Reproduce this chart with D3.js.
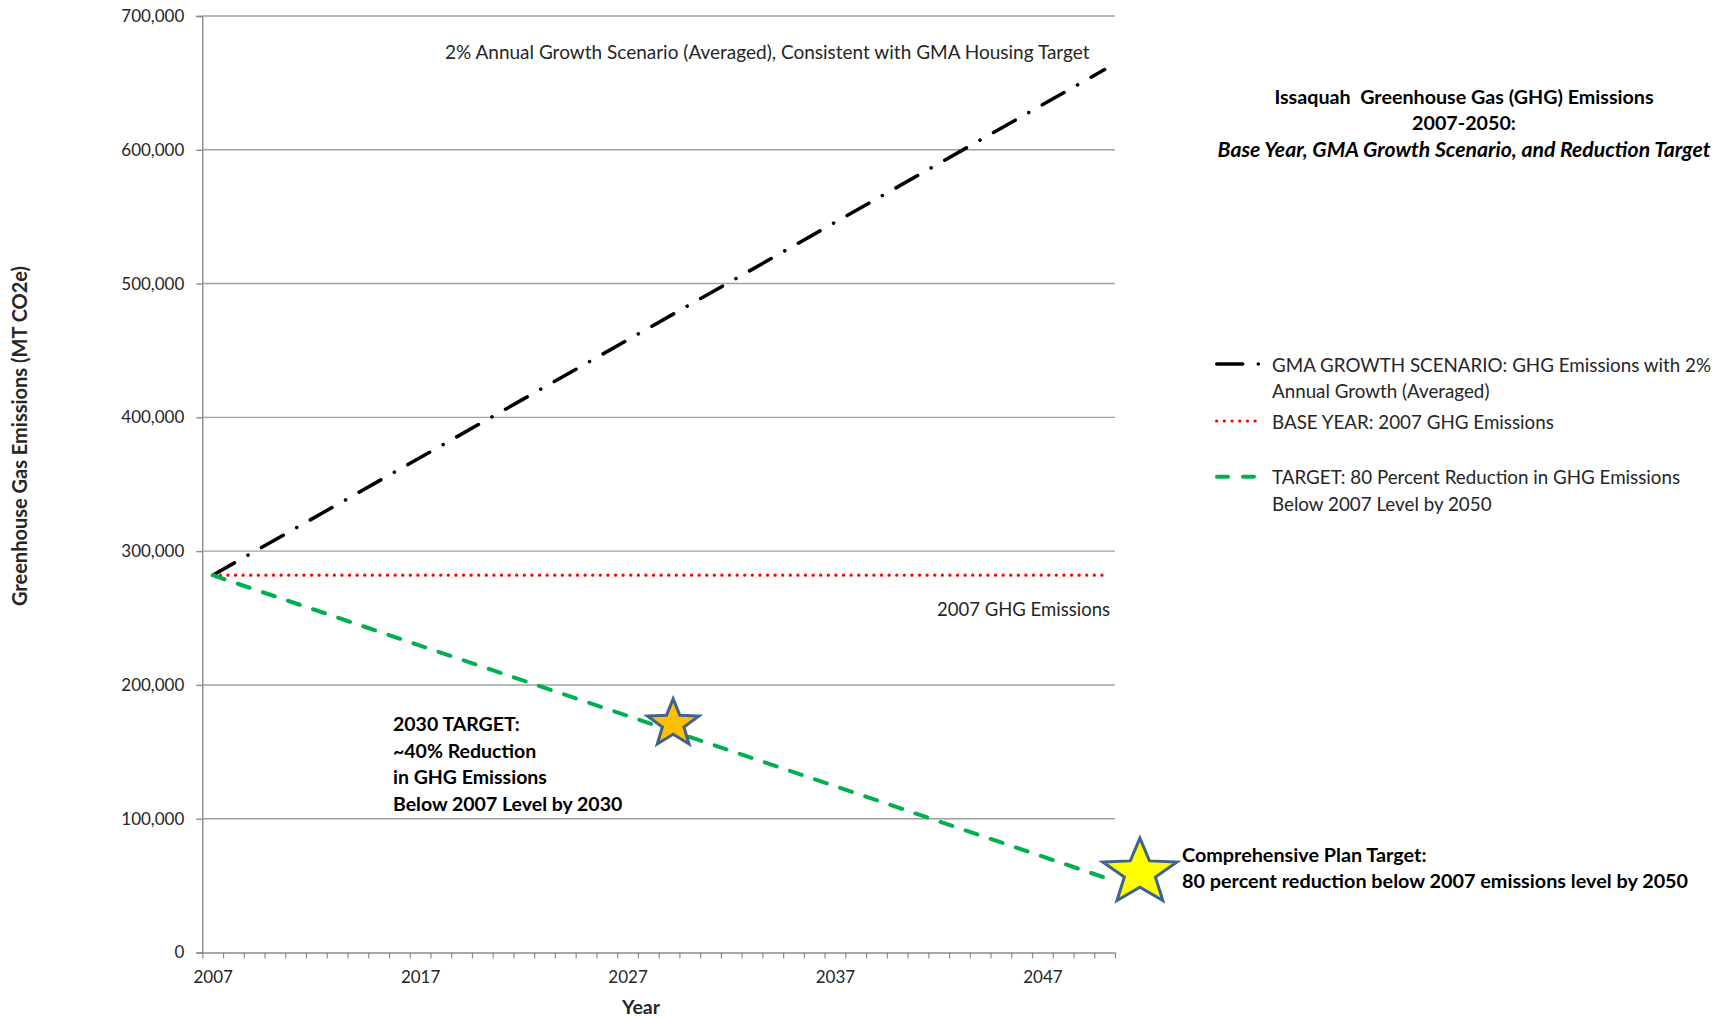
<!DOCTYPE html>
<html>
<head>
<meta charset="utf-8">
<script src="https://cdn.jsdelivr.net/npm/d3@7"></script>
<style>
  html, body { margin: 0; padding: 0; background: #fff; }
  svg { display: block; font-family: Lato, "Open Sans", sans-serif; }
</style>
</head>
<body>
<svg id="chart" width="1736" height="1020"></svg>
<script>
// ---------------- DATA ----------------
const categories = [2007, 2008, 2009, 2010, 2011, 2012, 2013, 2014, 2015, 2016,
  2017, 2018, 2019, 2020, 2021, 2022, 2023, 2024, 2025, 2026,
  2027, 2028, 2029, 2030, 2031, 2032, 2033, 2034, 2035, 2036,
  2037, 2038, 2039, 2040, 2041, 2042, 2043, 2044, 2045, 2046,
  2047, 2048, 2049, 2050];
const xTickLabels = [2007, 2017, 2027, 2037, 2047];
const yTickValues = [0, 100000, 200000, 300000, 400000, 500000, 600000, 700000];

// GMA growth scenario (2% annual growth, averaged) - straight line in chart
const gmaYears = [2007, 2050];
const gmaValues = [282000, 660000];
// Base year 2007 emissions (flat)
const baseYears = [2007, 2050];
const baseValues = [282000, 282000];
// Target: 80% reduction below 2007 by 2050
const targetYears = [2007, 2050];
const targetValues = [282000, 56000];

// Milestone stars
const starYears = [2029.2, 2051.7];
const starValues = [171000, 59700];

const legendLabels = [
  ["GMA GROWTH SCENARIO: GHG Emissions with 2%", "Annual Growth (Averaged)"],
  ["BASE YEAR: 2007 GHG Emissions"],
  ["TARGET: 80 Percent Reduction in GHG Emissions", "Below 2007 Level by 2050"]
];
const titleLines = ["Issaquah  Greenhouse Gas (GHG) Emissions", "2007-2050:", "Base Year, GMA Growth Scenario, and Reduction Target"];
const note2030 = ["2030 TARGET:", "~40% Reduction", "in GHG Emissions", "Below 2007 Level by 2030"];
const notePlan = ["Comprehensive Plan Target:", "80 percent reduction below 2007 emissions level by 2050"];

// ---------------- LAYOUT ----------------
const svg = d3.select("#chart");
const plotLeft = 202.3, plotRight = 1115, plotTop = 16, plotBottom = 952.5;
const textColor = "#262626";

const xLin = d3.scaleLinear()
  .domain([categories[0] - 0.5, categories[categories.length - 1] + 0.5])
  .range([plotLeft, plotRight]);
const y = d3.scaleLinear().domain([0, 700000]).range([plotBottom, plotTop]);

// gridlines
svg.append("g").selectAll("line")
  .data(yTickValues.filter(v => v > 0))
  .join("line")
  .attr("x1", plotLeft).attr("x2", plotRight)
  .attr("y1", d => y(d)).attr("y2", d => y(d))
  .attr("stroke", "#a0a0a0").attr("stroke-width", 1.4);

// y axis
const yAxis = svg.append("g")
  .attr("transform", `translate(${plotLeft},0)`)
  .call(d3.axisLeft(y).tickValues(yTickValues).tickFormat(d3.format(",")).tickSize(6).tickPadding(12));
yAxis.select(".domain").attr("stroke", "#8c8c8c").attr("stroke-width", 1.4);
yAxis.selectAll(".tick line").attr("stroke", "#8c8c8c").attr("stroke-width", 1.4);
yAxis.selectAll("text").attr("fill", textColor).style("font-size", "17px").style("font-family", "Lato");

// x axis: tick marks between categories
const boundaries = categories.map(c => c - 0.5).concat([categories[categories.length - 1] + 0.5]);
const xAxisTicks = svg.append("g")
  .attr("transform", `translate(0,${plotBottom})`)
  .call(d3.axisBottom(xLin).tickValues(boundaries).tickFormat("").tickSize(6).tickSizeOuter(0));
xAxisTicks.select(".domain").attr("stroke", "#8c8c8c").attr("stroke-width", 1.4);
xAxisTicks.selectAll(".tick line").attr("stroke", "#8c8c8c").attr("stroke-width", 1.2);

const xAxisLabels = svg.append("g")
  .attr("transform", `translate(0,${plotBottom})`)
  .call(d3.axisBottom(xLin).tickValues(xTickLabels).tickFormat(d3.format("d")).tickSize(0).tickPadding(18));
xAxisLabels.select(".domain").remove();
xAxisLabels.selectAll("text").attr("fill", textColor).style("font-size", "17px").style("font-family", "Lato");

// axis titles
svg.append("text")
  .attr("transform", `translate(19,436) rotate(-90)`)
  .attr("text-anchor", "middle").attr("dominant-baseline", "central")
  .attr("fill", textColor).style("font-size", "20px").style("font-weight", "bold")
  .text("Greenhouse Gas Emissions (MT CO2e)");
svg.append("text")
  .attr("x", 641).attr("y", 1006)
  .attr("text-anchor", "middle").attr("dominant-baseline", "central")
  .attr("fill", textColor).style("font-size", "19.5px").style("font-weight", "bold")
  .text("Year");

// ---------------- SERIES ----------------
const line = d3.line().x(d => xLin(d[0])).y(d => y(d[1]));
const zip = (a, b) => a.map((v, i) => [v, b[i]]);

const styles = {
  gma: { color: "#000000", width: 3.5, dash: "25 15.5 0.1 15.5", cap: "round" },
  base: { color: "#ff0000", width: 3.2, dash: "0.1 7.5", cap: "round" },
  target: { color: "#00b050", width: 4, dash: "12.5 14", cap: "round" }
};

svg.append("path").datum(zip(gmaYears, gmaValues)).attr("d", line)
  .attr("fill", "none").attr("stroke", styles.gma.color).attr("stroke-width", styles.gma.width)
  .attr("stroke-dasharray", styles.gma.dash).attr("stroke-linecap", styles.gma.cap);
svg.append("path").datum(zip(baseYears, baseValues)).attr("d", line)
  .attr("fill", "none").attr("stroke", styles.base.color).attr("stroke-width", styles.base.width)
  .attr("stroke-dasharray", styles.base.dash).attr("stroke-linecap", styles.base.cap);
svg.append("path").datum(zip(targetYears, targetValues)).attr("d", line)
  .attr("fill", "none").attr("stroke", styles.target.color).attr("stroke-width", styles.target.width)
  .attr("stroke-dasharray", styles.target.dash).attr("stroke-linecap", styles.target.cap);

// ---------------- STARS ----------------
function starPath(cx, cy, rx, ry, innerRatio) {
  const pts = [];
  for (let i = 0; i < 10; i++) {
    const a = -Math.PI / 2 + i * Math.PI / 5;
    const r = i % 2 === 0 ? 1 : innerRatio;
    pts.push([cx + Math.cos(a) * rx * r, cy + Math.sin(a) * ry * r]);
  }
  return "M" + pts.map(p => p.join(",")).join("L") + "Z";
}
const starSizes = [[27, 25], [39, 34.5]];
const starFills = ["#ffc000", "#ffff00"];
svg.append("g").selectAll("path")
  .data(starYears.map((yr, i) => ({ yr, v: starValues[i], i })))
  .join("path")
  .attr("d", d => starPath(xLin(d.yr), y(d.v), starSizes[d.i][0], starSizes[d.i][1], 0.42))
  .attr("fill", d => starFills[d.i])
  .attr("stroke", "#41618f").attr("stroke-width", 3).attr("stroke-linejoin", "miter");

// ---------------- ANNOTATIONS ----------------
svg.append("text").attr("x", 445).attr("y", 51.5).attr("dominant-baseline", "central")
  .attr("fill", textColor).style("font-size", "19px")
  .text("2% Annual Growth Scenario (Averaged), Consistent with GMA Housing Target");
svg.append("text").attr("x", 1110).attr("y", 609).attr("text-anchor", "end").attr("dominant-baseline", "central")
  .attr("fill", textColor).style("font-size", "18.5px")
  .text("2007 GHG Emissions");

svg.append("g").selectAll("text").data(note2030).join("text")
  .attr("x", 393).attr("y", (d, i) => 723.3 + i * 26.7).attr("dominant-baseline", "central")
  .attr("fill", "#000").style("font-size", "19.5px").style("font-weight", "bold")
  .text(d => d);

svg.append("g").selectAll("text").data(notePlan).join("text")
  .attr("x", 1182).attr("y", (d, i) => 854 + i * 25.7).attr("dominant-baseline", "central")
  .attr("fill", "#000").style("font-size", "19.8px").style("font-weight", "bold")
  .text(d => d);

// title
svg.append("g").selectAll("text").data(titleLines).join("text")
  .attr("x", 1464).attr("y", (d, i) => 96.7 + i * 26.2)
  .attr("text-anchor", "middle").attr("dominant-baseline", "central")
  .attr("fill", "#000").style("font-size", (d, i) => i === 2 ? "21.2px" : "19.7px").style("font-weight", "bold")
  .style("font-style", (d, i) => i === 2 ? "italic" : "normal")
  .style("white-space", "pre")
  .text(d => d);

// ---------------- LEGEND ----------------
const legendX1 = 1215, legendX2 = 1262, legendTextX = 1272;
const legendRowsY = [[364, 390], [421], [476.7, 503]];
const legendStyles = [
  { color: "#000", width: 3.5, dash: "26 15.5 0.1 100", cap: "round" },
  { color: "#ff0000", width: 3.2, dash: "0.1 7.6", cap: "round" },
  { color: "#00b050", width: 4, dash: "11 15", cap: "round" }
];
legendLabels.forEach((lines, i) => {
  const st = legendStyles[i];
  svg.append("line")
    .attr("x1", legendX1 + st.width / 2).attr("x2", legendX2)
    .attr("y1", legendRowsY[i][0]).attr("y2", legendRowsY[i][0])
    .attr("stroke", st.color).attr("stroke-width", st.width)
    .attr("stroke-dasharray", st.dash).attr("stroke-linecap", st.cap);
  lines.forEach((t, j) => {
    svg.append("text").attr("x", legendTextX).attr("y", legendRowsY[i][j])
      .attr("dominant-baseline", "central")
      .attr("fill", textColor).style("font-size", "18.8px")
      .text(t);
  });
});
</script>
</body>
</html>
